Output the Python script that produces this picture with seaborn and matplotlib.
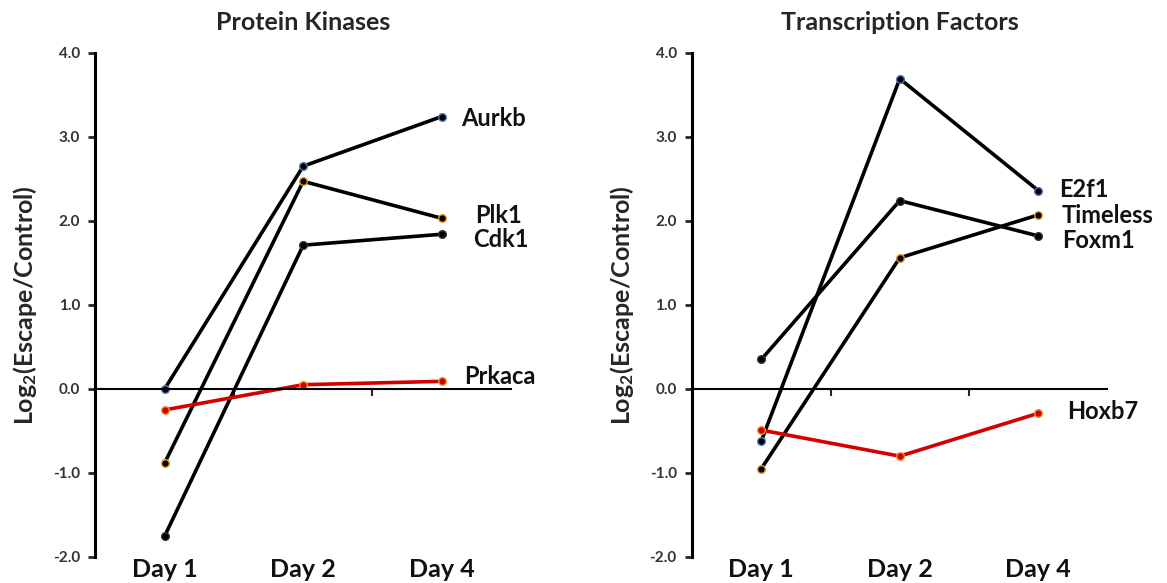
import matplotlib
matplotlib.use("Agg")
import matplotlib.pyplot as plt
import seaborn as sns
from matplotlib.ticker import FormatStrFormatter

# ---------------- data ----------------
days = ["Day 1", "Day 2", "Day 4"]
yticks = [-2.0, -1.0, 0.0, 1.0, 2.0, 3.0, 4.0]

pk_title = "Protein Kinases"
pk_genes = ["Aurkb", "Plk1", "Cdk1", "Prkaca"]
aurkb = [0.00, 2.65, 3.24]
plk1 = [-0.88, 2.47, 2.03]
cdk1 = [-1.75, 1.71, 1.84]
prkaca = [-0.25, 0.05, 0.09]

tf_title = "Transcription Factors"
tf_genes = ["E2f1", "Foxm1", "Timeless", "Hoxb7"]
e2f1 = [-0.62, 3.69, 2.36]
foxm1 = [0.35, 2.24, 1.82]
timeless = [-0.95, 1.56, 2.07]
hoxb7 = [-0.49, -0.80, -0.29]

ylabel = r"Log$_{2}$(Escape/Control)"

# ---------------- styles ----------------
BLACK = "#000000"
RED = "#d40000"
BLUE_E = "#4a78b0"
ORANGE_E = "#e8962e"

pk_styles = [  # line colour, marker face, marker edge
    (BLACK, BLACK, BLUE_E),
    (BLACK, BLACK, ORANGE_E),
    (BLACK, BLACK, "#333333"),
    (RED, RED, ORANGE_E),
]
tf_styles = [
    (BLACK, BLACK, BLUE_E),
    (BLACK, BLACK, "#333333"),
    (BLACK, BLACK, ORANGE_E),
    (RED, RED, ORANGE_E),
]
# label placement: (offset in points from last point, label y in data units)
pk_label_pos = [(14, 3.24), (24, 2.09), (23, 1.80), (16, 0.17)]
tf_label_pos = [(15, 2.40), (17, 1.79), (17, 2.09), (21, -0.24)]

sns.set_theme(style="white")
plt.rcParams["font.family"] = ["Lato", "DejaVu Sans"]
plt.rcParams["mathtext.fontset"] = "custom"
plt.rcParams["mathtext.rm"] = "Lato:bold"
plt.rcParams["mathtext.bf"] = "Lato:bold"
plt.rcParams["mathtext.default"] = "bf"

fig = plt.figure(figsize=(11.67, 5.83), dpi=100)
ax1 = fig.add_axes([0.0818, 0.0446, 0.356, 0.865])
ax2 = fig.add_axes([0.593, 0.0446, 0.356, 0.865])

xpos = list(range(len(days)))


def draw(ax, title, genes, series, styles, label_pos):
    for g, vals, (lc, mf, me), (dx, ly) in zip(genes, series, styles, label_pos):
        sns.lineplot(x=xpos, y=vals, ax=ax, color=lc, linewidth=2.6,
                     marker="o", markersize=5.5, markerfacecolor=mf,
                     markeredgecolor=me, markeredgewidth=1.0, legend=False)
        ax.annotate(g, xy=(xpos[-1], ly), xytext=(dx, 0),
                    textcoords="offset points", ha="left", va="center_baseline",
                    fontsize=17, fontweight="bold", color="#111111",
                    annotation_clip=False)
    ax.set_xlim(-0.5, len(days) - 0.5)
    ax.set_ylim(min(yticks), max(yticks))
    ax.set_yticks(yticks)
    ax.yaxis.set_major_formatter(FormatStrFormatter("%.1f"))
    ax.tick_params(axis="y", direction="out", length=5, width=2, left=True,
                   labelsize=11, labelcolor="#333333", pad=6)
    for lbl in ax.get_yticklabels():
        lbl.set_fontweight("bold")
    for s in ["top", "right"]:
        ax.spines[s].set_visible(False)
    ax.spines["left"].set_linewidth(2.2)
    ax.spines["left"].set_color("black")
    ax.spines["bottom"].set_position(("data", 0))
    ax.spines["bottom"].set_linewidth(1.5)
    ax.spines["bottom"].set_color("black")
    ax.set_xticks([p + 0.5 for p in xpos[:-1]])
    ax.set_xticklabels([])
    ax.tick_params(axis="x", direction="out", length=5, width=1.5, bottom=True)
    sec = ax.secondary_xaxis("bottom")
    sec.set_xticks(xpos)
    sec.set_xticklabels(days, fontsize=18, fontweight="bold", color="#111111")
    sec.tick_params(length=0, pad=1)
    sec.spines["bottom"].set_visible(False)
    ax.set_ylabel(ylabel, fontsize=18, fontweight="bold", labelpad=10)
    ax.set_title(title, fontsize=18, fontweight="bold", pad=16)
    ax.set_xlabel("")
    ax.set_zorder(1)


draw(ax1, pk_title, pk_genes, [aurkb, plk1, cdk1, prkaca], pk_styles, pk_label_pos)
draw(ax2, tf_title, tf_genes, [e2f1, foxm1, timeless, hoxb7], tf_styles, tf_label_pos)

fig.savefig("out.png", dpi=100)
